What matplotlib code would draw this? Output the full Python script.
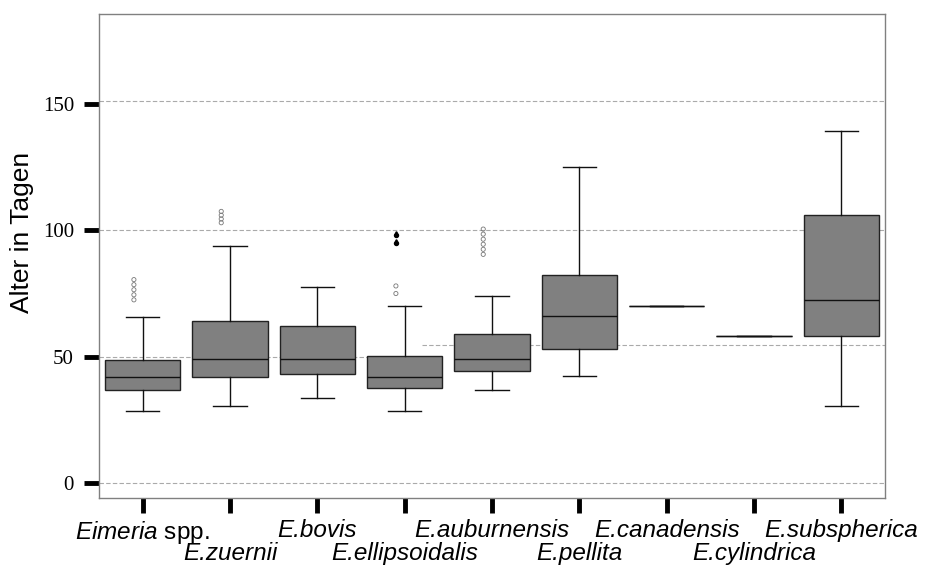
import matplotlib.pyplot as plt
import numpy as np

plt.rcParams['mathtext.fontset'] = 'custom'
plt.rcParams['mathtext.it'] = 'Liberation Sans:italic'
plt.rcParams['mathtext.rm'] = 'Liberation Sans'

# species and box statistics (days)
species = ["Eimeria spp.", "E.zuernii", "E.bovis", "E.ellipsoidalis", "E.auburnensis",
           "E.pellita", "E.canadensis", "E.cylindrica", "E.subspherica"]
whis_lo = [28.5, 30.4, 33.6, 28.5, 36.8, 42.3, 70.0, 58.0, 30.4]
q1 = [36.8, 41.9, 43.0, 37.5, 44.3, 53.0, 70.0, 58.0, 58.0]
median = [41.9, 49.0, 49.0, 41.9, 49.0, 66.0, 70.0, 58.0, 72.3]
q3 = [48.6, 64.0, 62.0, 50.2, 59.0, 82.2, 70.0, 58.0, 106.0]
whis_hi = [65.6, 93.7, 77.5, 70.0, 74.0, 125.0, 70.0, 58.0, 139.5]

# outliers (case labels) and extreme values per group index
outliers = {0: [72.5, 74.5, 76.5, 78.5, 80.5],
            1: [103.0, 104.5, 106.0, 107.5],
            3: [75.0, 78.0],
            4: [90.5, 92.5, 94.5, 96.5, 98.5, 100.5]}
extremes = {3: [95.0, 98.0]}

fig = plt.figure(figsize=(9.48, 5.72), dpi=100)
ax = fig.add_axes([0.1044, 0.1294, 0.8291, 0.8461])

pos = np.arange(len(species)) + 0.5
stats = []
for i in range(len(species)):
    stats.append(dict(med=median[i], q1=q1[i], q3=q3[i],
                      whislo=whis_lo[i], whishi=whis_hi[i], fliers=[]))

ax.bxp(stats, positions=pos, widths=0.86, patch_artist=True, showfliers=False,
       boxprops=dict(facecolor="#808080", edgecolor="#222222", linewidth=1.0),
       medianprops=dict(color="#111111", linewidth=1.0),
       whiskerprops=dict(color="#111111", linewidth=1.0),
       capprops=dict(color="#111111", linewidth=1.0), capwidths=0.38)

# reference lines
ax.axhline(0, color="#aaaaaa", ls=(0, (4, 2)), lw=0.8, zorder=0)
ax.axhline(100, color="#aaaaaa", ls=(0, (4, 2)), lw=0.8, zorder=0)
ax.axhline(151, color="#aaaaaa", ls=(0, (4, 2)), lw=0.8, zorder=0)
ax.axhline(50, xmin=0, xmax=3.5 / 9, color="#aaaaaa", ls=(0, (4, 2)), lw=0.8, zorder=0)
ax.axhline(54.5, xmin=3.7 / 9, xmax=1, color="#aaaaaa", ls=(0, (4, 2)), lw=0.8, zorder=0)

# outlier markers
for i, vals in outliers.items():
    ax.scatter([pos[i] - 0.1] * len(vals), vals, s=9, marker="o",
               facecolor="none", edgecolor="#777777", linewidth=0.6, zorder=3)

t = np.linspace(np.radians(50), np.radians(-230), 30)
drop = [(0, 1.9)] + list(zip(np.cos(t), np.sin(t))) + [(0, 1.9)]
for i, vals in extremes.items():
    ax.scatter([pos[i] - 0.1] * len(vals), vals, s=30, marker=drop,
               color="black", zorder=3)

ax.set_xlim(0, 9)
ax.set_ylim(-5.9, 185.6)
ax.set_yticks([0, 50, 100, 150])
ax.set_yticklabels(["0", "50", "100", "150"], family="Liberation Serif", fontsize=15)
ax.set_ylabel("Alter in Tagen", family="Liberation Sans", fontsize=19)
ax.yaxis.set_label_coords(-0.083, 0.548)

labels = []
for name in species:
    if name == "Eimeria spp.":
        name = r"$\it{Eimeria}$ spp."
    labels.append(name)
ax.set_xticks(pos)
ax.set_xticklabels(labels, family="Liberation Sans", fontsize=17.5)

ax.tick_params(axis="both", direction="out", length=11, width=3.5, color="black")
ax.tick_params(axis="y", pad=7)
ax.tick_params(axis="x", pad=4)

# alternate labels on two rows
for i, tick in enumerate(ax.xaxis.get_major_ticks()):
    if i > 0:
        tick.label1.set_fontstyle("italic")
    if i % 2 == 1:
        tick.set_pad(21)

for s in ax.spines.values():
    s.set_color("#808080")
    s.set_linewidth(1.0)

fig.savefig("out.png", dpi=100)
